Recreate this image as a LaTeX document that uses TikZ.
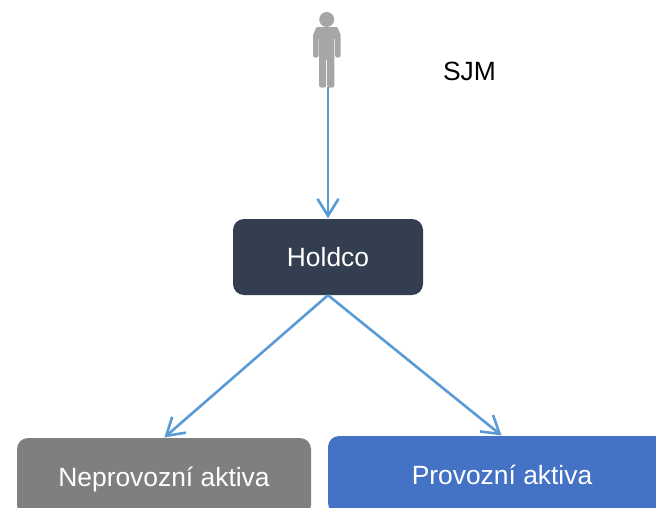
\documentclass[tikz,border=0pt]{standalone}
\usepackage{fontspec}
\setmainfont{Liberation Sans}
\usepackage{tikz}
\usetikzlibrary{arrows.meta}
\definecolor{linkblue}{HTML}{5B9BD5}
\definecolor{holdcodark}{HTML}{333F50}
\definecolor{assetgray}{HTML}{7F7F7F}
\definecolor{assetblue}{HTML}{4472C4}
\definecolor{persongray}{HTML}{A6A6A6}

\begin{document}
\begin{tikzpicture}[x=1pt,y=-1pt,->,>={Straight Barb[length=17pt,width=21pt,line width=2.6pt]},link/.style={draw=linkblue,line width=2.6pt,shorten >=0.5pt},box/.style={rectangle,rounded corners=11pt,text=white,inner sep=0pt,text depth=0pt,font=\fontsize{26.4}{30}\selectfont},person/.style={fill=persongray,draw=none}]
	\useasboundingbox (0,0) rectangle (656,507);
	\clip (0,0) rectangle (656,507);

	\node[box,fill=holdcodark,minimum width=190pt,minimum height=76pt]	(holdco)	at (328,257)	{Holdco};
	\node[box,fill=assetgray,minimum width=294pt,minimum height=78pt]	(neprovozni)	at (164,477)	{Neprovozní aktiva};
	\node[box,fill=assetblue,minimum width=348pt,minimum height=78pt]	(provozni)	at (502,475)	{Provozní aktiva};
	\node[font=\fontsize{26.4}{30}\selectfont]	(sjm)	at (469.5,71)	{SJM};
	\coordinate	(owner)	at (328,87);

	% person icon
	\fill[person]	(326.7,19.5) circle (7.5);
	\fill[person,rounded corners=2pt]	(313,57.5) -- (313,33) to[out=-90,in=180] (319,27) -- (334.7,27) to[out=0,in=-90] (340.7,33) -- (340.7,57.5) -- (335.2,57.5) -- (335.2,37) -- (334.4,37) -- (334.4,87.5) -- (327.2,87.5) -- (327.2,58) -- (326.2,58) -- (326.2,87.5) -- (319.2,87.5) -- (319.2,37) -- (318.5,37) -- (318.5,57.5) -- cycle;

	\path
		(owner)		edge	[link]	(holdco.north)
		(holdco.south)	edge	[link]	(neprovozni.north)
		(holdco.south)	edge	[link]	(provozni.north)
	;
\end{tikzpicture}
\end{document}
